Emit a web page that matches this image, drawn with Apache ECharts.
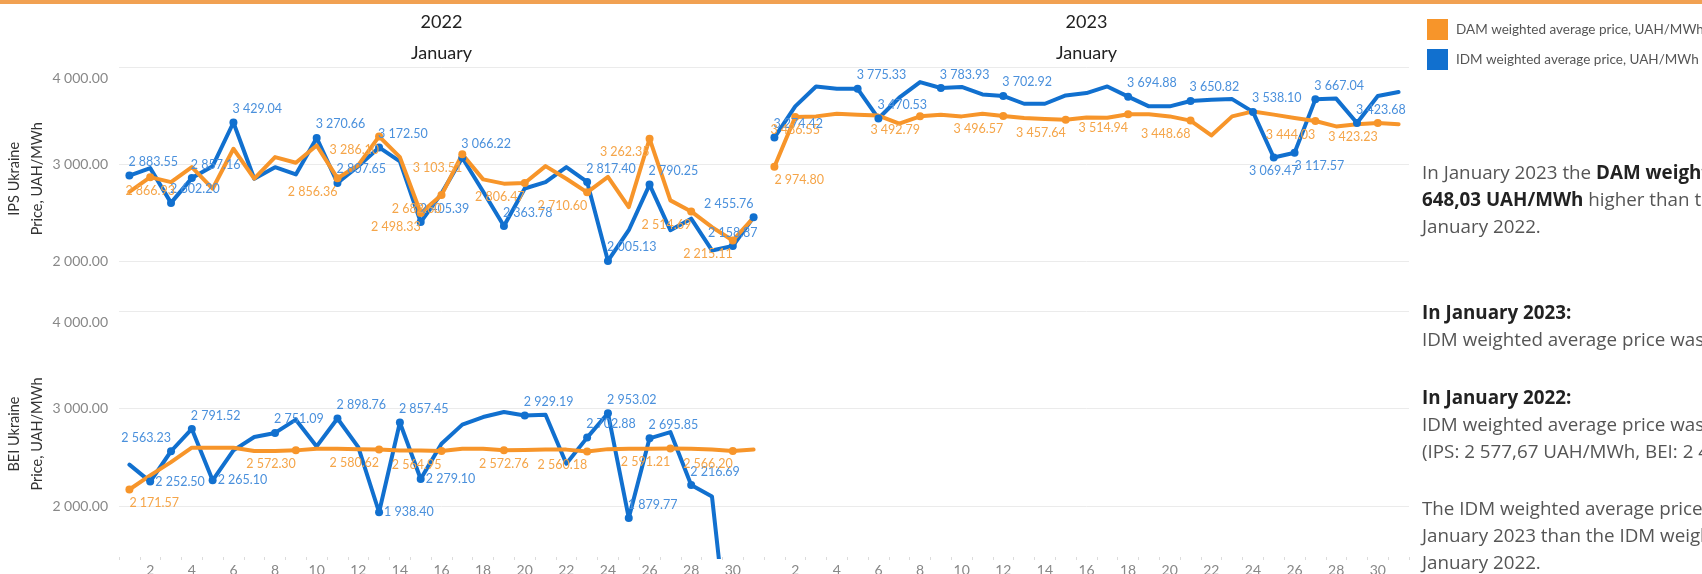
<!DOCTYPE html>
<html><head><meta charset="utf-8">
<script src="https://cdn.jsdelivr.net/npm/echarts@6/dist/echarts.min.js"></script>
<style>html,body{margin:0;padding:0;background:#fff;overflow:hidden}#c{width:1702px;height:574px}</style>
</head><body><div id="c"></div>
<script>
// ---------------- DATA ----------------
const days = ['1','2','3','4','5','6','7','8','9','10','11','12','13','14','15','16','17','18','19','20','21','22','23','24','25','26','27','28','29','30','31'];
const yTicks = [2000, 3000, 4000];
const years = ['2022', '2023'];
const monthName = 'January';
const damName = 'DAM weighted average price, UAH/MWh';
const idmName = 'IDM weighted average price, UAH/MWh';
const ipsTitle = 'IPS Ukraine\nPrice, UAH/MWh';
const beiTitle = 'BEI Ukraine\nPrice, UAH/MWh';

const ipsIdm2022 = [2883.55, 2960, 2602.20, 2857.16, 2980, 3429.04, 2850, 2970, 2895, 3270.66, 2807.65, 2980, 3172.50, 3030, 2405.39, 2700, 3066.22, 2720, 2363.78, 2750, 2816, 2970, 2817.40, 2005.13, 2321, 2790.25, 2321, 2440, 2113, 2158.87, 2455.76];
const ipsDam2022 = [2715, 2866.93, 2816, 2970, 2748, 3159, 2851, 3073, 3015, 3193, 2856.36, 2990, 3286.10, 3073, 2498.33, 2682.60, 3103.51, 2844, 2800, 2806.47, 2980, 2851, 2710.60, 2870, 2559, 3262.35, 2628, 2514.69, 2353, 2215.11, 2450];
const ipsIdm2023 = [3274.42, 3595, 3800, 3777, 3775.33, 3470.53, 3684, 3845, 3783.93, 3795, 3718, 3702.92, 3622, 3622, 3708, 3732, 3800, 3694.88, 3595, 3595, 3650.82, 3664, 3670, 3538.10, 3069.47, 3117.57, 3667.04, 3675, 3423.68, 3701, 3742];
const ipsDam2023 = [2974.80, 3486.55, 3492, 3520, 3510, 3500, 3417, 3492.79, 3510, 3492, 3520, 3496.57, 3475, 3465, 3457.64, 3480, 3478, 3514.94, 3514, 3492, 3448.68, 3296, 3492, 3543, 3510, 3475, 3444.03, 3389, 3410, 3423.23, 3412];
const beiIdm2022 = [2426, 2252.50, 2563.23, 2791.52, 2265.10, 2572, 2709, 2751.09, 2887, 2613, 2898.76, 2606, 1938.40, 2857.45, 2279.10, 2641, 2836, 2914, 2965, 2929.19, 2938, 2436, 2702.88, 2953.02, 1879.77, 2695.85, 2760, 2216.69, 2100, 170, null];
const beiDam2022 = [2171.57, 2316, 2452, 2600, 2600, 2600, 2565, 2565, 2572.30, 2590, 2590, 2585, 2580.62, 2570, 2570, 2564.95, 2590, 2590, 2572.76, 2575, 2580, 2580, 2560.18, 2585, 2590, 2590, 2591.21, 2590, 2580, 2566.20, 2580];

// days whose values are annotated
const ipsIdm2022Labeled = [1,3,4,6,10,11,13,15,17,19,23,24,26,30,31];
const ipsDam2022Labeled = [2,11,13,15,16,17,20,23,26,28,30];
const ipsIdm2023Labeled = [1,5,6,9,12,18,21,24,25,26,27,29];
const ipsDam2023Labeled = [1,2,8,12,15,18,21,27,30];
const beiIdm2022Labeled = [2,3,4,5,8,11,13,14,15,20,23,24,25,26,28];
const beiDam2022Labeled = [1,9,13,16,19,23,27,30];

const textBlocks = [
  'In January 2023 the {b|DAM weighted average price was}\n{b|648,03 UAH/MWh} higher than the same indicator in\nJanuary 2022.',
  '{b|In January 2023:}\nIDM weighted average price was lower in BEI than in IPS',
  '{b|In January 2022:}\nIDM weighted average price was lower in BEI than in IPS\n(IPS: 2 577,67 UAH/MWh, BEI: 2 493,97 UAH/MWh).',
  'The IDM weighted average price in IPS was higher in\nJanuary 2023 than the IDM weighted average price in\nJanuary 2022.'
];

// ---------------- STYLE / LAYOUT ----------------
const FONT = 'Lato, "Noto Sans", sans-serif';
const FONT_TEXT = '"Open Sans", Lato, sans-serif';
const BLUE = '#1170CF', ORANGE = '#F7952A';
const BLUE_LBL = '#4A90DC', ORANGE_LBL = '#F5A549';
const GRID_C = '#ebebeb';

const placement = {
  ipsIdm2022: {def: 'tr', ex: {30: 'tc', 31: 'tl'}},
  ipsDam2022: {def: 'bl', ex: {2: 'bc'}},
  ipsIdm2023: {def: 'tr', ex: {25: 'bc', 26: 'br'}},
  ipsDam2023: {def: 'bl', ex: {1: 'br', 2: 'bc'}},
  beiIdm2022: {def: 'tr', ex: {2: 'r', 3: 'tl', 5: 'r', 13: 'r', 15: 'r'}},
  beiDam2022: {def: 'bl', ex: {1: 'br', 19: 'bc'}}
};
const posMap = {
  tr: {position: 'top', align: 'left', distance: 3, offset: [-1, 0]},
  tl: {position: 'top', align: 'right', distance: 3},
  tc: {position: 'top', distance: 3},
  bl: {position: 'bottom', align: 'right', distance: 3},
  br: {position: 'bottom', align: 'left', distance: 3},
  bc: {position: 'bottom', distance: 3},
  r:  {position: 'right', distance: 1}
};

function fmt(v) {
  const s = Number(v).toFixed(2).split('.');
  return s[0].replace(/\B(?=(\d{3})+(?!\d))/g, ' ') + '.' + s[1];
}

function buildData(values, labeled, key, lblColor) {
  const pl = placement[key];
  return values.map((v, i) => {
    const d = i + 1;
    if (v === null) return null;
    if (labeled.indexOf(d) === -1) return {value: v, symbol: 'none'};
    const code = pl.ex[d] || pl.def;
    return {
      value: v, symbol: 'circle', symbolSize: 8,
      label: Object.assign({show: true, color: lblColor, fontSize: 12.5, fontFamily: FONT,
        formatter: p => fmt(p.value)}, posMap[code])
    };
  });
}

function lineSeries(name, values, labeled, key, gi, color, lblColor) {
  return {
    type: 'line', name: name, xAxisIndex: gi, yAxisIndex: gi,
    data: buildData(values, labeled, key, lblColor),
    symbol: 'circle', symbolSize: 8, showSymbol: true,
    itemStyle: {color: color},
    lineStyle: {color: color, width: 4, cap: 'round', join: 'round'},
    connectNulls: false, animation: false, silent: true,
    emphasis: {disabled: true}
  };
}

const grids = [
  {left: 119, width: 645, top: 67, height: 223.6},
  {left: 764, width: 645, top: 67, height: 223.6},
  {left: 119, width: 645, top: 311, height: 246},
  {left: 764, width: 645, top: 311, height: 246}
].map(g => Object.assign({outerBoundsMode: 'none', containLabel: false}, g));

const xAxes = grids.map((g, i) => ({
  type: 'category', gridIndex: i, data: days, boundaryGap: true,
  axisLine: {show: false},
  axisTick: {show: i >= 2, length: 3, interval: 0, lineStyle: {color: '#dcdcdc', width: 1}},
  axisLabel: {show: i >= 2, interval: idx => idx % 2 === 1, color: '#888', fontSize: 14,
    fontFamily: FONT, margin: 6},
  splitLine: {show: false}
}));

const yAxes = grids.map((g, i) => ({
  type: 'value', gridIndex: i,
  min: i < 2 ? 1700 : 1480, max: 4000,
  axisLine: {show: false},
  axisTick: {show: false, customValues: yTicks},
  splitLine: {show: true, lineStyle: {color: GRID_C, width: 1}},
  axisLabel: {
    show: i % 2 === 0, customValues: yTicks, color: '#888', fontSize: 14, fontFamily: FONT, margin: 11,
    formatter: v => v === 4000 ? '{t|' + fmt(v) + '}' : fmt(v),
    rich: {t: {padding: [23, 0, 0, 0], color: '#888', fontSize: 14, fontFamily: FONT}}
  },
  name: i === 0 ? ipsTitle : (i === 2 ? beiTitle : ''),
  nameLocation: 'middle', nameRotate: 90, nameGap: 66,
  nameTextStyle: {color: '#333', fontSize: 14.5, fontFamily: FONT, lineHeight: 23}
}));

const series = [
  lineSeries(idmName, ipsIdm2022, ipsIdm2022Labeled, 'ipsIdm2022', 0, BLUE, BLUE_LBL),
  lineSeries(damName, ipsDam2022, ipsDam2022Labeled, 'ipsDam2022', 0, ORANGE, ORANGE_LBL),
  lineSeries(idmName, ipsIdm2023, ipsIdm2023Labeled, 'ipsIdm2023', 1, BLUE, BLUE_LBL),
  lineSeries(damName, ipsDam2023, ipsDam2023Labeled, 'ipsDam2023', 1, ORANGE, ORANGE_LBL),
  lineSeries(idmName, beiIdm2022, beiIdm2022Labeled, 'beiIdm2022', 2, BLUE, BLUE_LBL),
  lineSeries(damName, beiDam2022, beiDam2022Labeled, 'beiDam2022', 2, ORANGE, ORANGE_LBL)
];

const headerStyle = {fill: '#222', fontSize: 18, fontFamily: FONT, align: 'center', verticalAlign: 'middle'};
const blockTops = [160.5, 300.5, 385.5, 496.5];
const graphic = [
  {type: 'rect', shape: {x: 0, y: 0, width: 1702, height: 4}, style: {fill: '#F1A152'}, silent: true},
  {type: 'text', x: 441.5, y: 22, style: Object.assign({text: years[0]}, headerStyle)},
  {type: 'text', x: 441.5, y: 53, style: Object.assign({text: monthName}, headerStyle)},
  {type: 'text', x: 1086.5, y: 22, style: Object.assign({text: years[1]}, headerStyle)},
  {type: 'text', x: 1086.5, y: 53, style: Object.assign({text: monthName}, headerStyle)}
].concat(textBlocks.map((t, i) => ({
  type: 'text', x: 1422, y: blockTops[i],
  style: {
    text: t, fill: '#555', fontSize: 18.8, fontFamily: FONT_TEXT, lineHeight: 27,
    align: 'left', verticalAlign: 'top',
    rich: {b: {fontWeight: 'bold', fill: '#222', fontSize: 18.8, fontFamily: FONT_TEXT, lineHeight: 27}}
  }
})));

const chart = echarts.init(document.getElementById('c'), null, {renderer: 'canvas'});
chart.setOption({
  animation: false,
  backgroundColor: '#fff',
  grid: grids, xAxis: xAxes, yAxis: yAxes, series: series,
  legend: {
    data: [damName, idmName], orient: 'vertical', left: 1422, top: 14,
    itemWidth: 21, itemHeight: 21, itemGap: 9, icon: 'rect', selectedMode: false,
    textStyle: {color: '#555', fontSize: 13.5, fontFamily: FONT, padding: [0, 0, 0, 3]}
  },
  graphic: graphic
});
</script>
</body></html>
